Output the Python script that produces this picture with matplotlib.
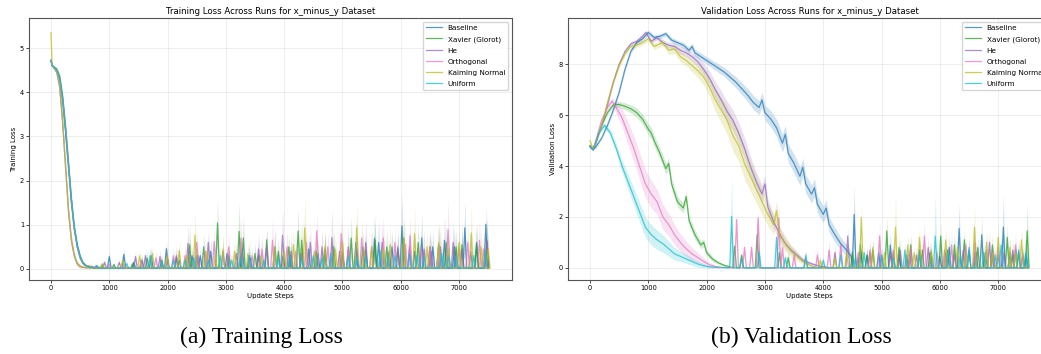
import numpy as np
import matplotlib.pyplot as plt

# series names and colours
names = ['Baseline', 'Xavier (Glorot)', 'He', 'Orthogonal', 'Kaiming Normal', 'Uniform']
colors = ['#1f77b4', '#2ca02c', '#9467bd', '#e377c2', '#bcbd22', '#17becf']

# ---------------- training loss: early decay (shared steps) ----------------
train_steps = [0, 20, 50, 100, 150, 200, 250, 300, 350, 400, 450, 500, 550, 600]
train_baseline = [4.72, 4.6, 4.57, 4.5, 4.3, 3.8, 3.1, 2.3, 1.5, 0.9, 0.5, 0.25, 0.12, 0.07]
train_xavier = [4.72, 4.6, 4.57, 4.52, 4.35, 3.9, 3.2, 2.4, 1.6, 0.95, 0.55, 0.3, 0.15, 0.08]
train_he = [4.72, 4.6, 4.55, 4.45, 4.1, 3.3, 2.3, 1.3, 0.65, 0.3, 0.12, 0.06, 0.04, 0.03]
train_orthogonal = [4.72, 4.6, 4.57, 4.5, 4.3, 3.85, 3.2, 2.4, 1.55, 0.9, 0.5, 0.25, 0.12, 0.07]
train_kaiming = [5.35, 4.62, 4.56, 4.45, 4.15, 3.35, 2.35, 1.35, 0.65, 0.3, 0.12, 0.06, 0.04, 0.03]
train_uniform = [4.72, 4.6, 4.57, 4.5, 4.32, 3.85, 3.15, 2.35, 1.55, 0.95, 0.55, 0.28, 0.14, 0.07]
train_std = [0.06, 0.03, 0.03, 0.04, 0.08, 0.12, 0.14, 0.14, 0.12, 0.09, 0.06, 0.04, 0.02, 0.01]
train_floor = 0.02

# training loss spikes: step, mean height, upper band
tsp_baseline_steps = [780, 1000, 1250, 1420, 1560, 1720, 1980, 2200, 2420, 2560, 2740, 3020, 3280, 3420, 3560,
                      3840, 3980, 4110, 4420, 4580, 4700, 5000, 5230, 5400, 5550, 5620, 5850, 6020, 6240,
                      6360, 6550, 6750, 6920, 7100, 7300, 7460]
tsp_baseline_mean = [0.08, 0.28, 0.33, 0.15, 0.2, 0.3, 0.46, 0.2, 0.3, 0.3, 0.4, 0.35, 0.45, 0.25, 0.3,
                     0.5, 0.3, 0.3, 0.45, 0.35, 0.4, 0.35, 0.6, 0.4, 0.7, 0.6, 0.5, 0.97, 0.4,
                     0.7, 0.5, 0.65, 0.5, 0.93, 0.6, 1.01]
tsp_baseline_upper = [0.12, 0.4, 0.45, 0.25, 0.35, 0.5, 0.62, 0.4, 0.5, 0.5, 0.7, 0.55, 0.7, 0.45, 0.6,
                      0.9, 0.55, 0.6, 0.8, 0.65, 0.8, 0.7, 1.1, 0.75, 1.25, 1.1, 0.9, 1.71, 0.8,
                      1.25, 0.9, 1.2, 0.9, 1.53, 1.0, 1.4]

tsp_xavier_steps = [700, 880, 1080, 1400, 1650, 1900, 2150, 2380, 2500, 2620, 2857, 3050, 3227, 3300, 3500,
                    3700, 3900, 4080, 4240, 4300, 4550, 4700, 4850, 5000, 5150, 5350, 5560, 5760, 5950,
                    6050, 6300, 6500, 6650, 6780, 6950, 7050, 7300, 7480]
tsp_xavier_mean = [0.06, 0.1, 0.1, 0.12, 0.25, 0.2, 0.25, 0.55, 0.3, 0.5, 1.04, 0.3, 0.85, 0.7, 0.35,
                   0.66, 0.4, 0.5, 0.86, 0.65, 0.4, 0.45, 0.5, 0.4, 0.7, 0.5, 0.65, 0.5, 0.45,
                   0.7, 0.6, 0.5, 0.55, 0.6, 0.5, 0.55, 0.55, 0.6]
tsp_xavier_upper = [0.1, 0.15, 0.15, 0.2, 0.4, 0.35, 0.4, 1.0, 0.5, 0.8, 1.56, 0.5, 1.53, 1.22, 0.6,
                    0.9, 0.7, 0.8, 1.38, 1.1, 0.7, 0.8, 0.9, 0.7, 1.2, 0.9, 1.1, 0.9, 0.8,
                    1.1, 1.0, 0.9, 0.95, 1.0, 0.9, 1.0, 1.0, 1.1]

tsp_he_steps = [920, 1170, 1450, 1620, 1870, 2000, 2150, 2350, 2520, 2700, 2950, 3180, 3400, 3560, 3700,
                3973, 4120, 4300, 4450, 4650, 4820, 4950, 5100, 5250, 5400, 5680, 5800, 5950, 6150,
                6400, 6520, 6680, 6900, 7050, 7200, 7480]
tsp_he_mean = [0.15, 0.15, 0.28, 0.3, 0.28, 0.25, 0.3, 0.58, 0.3, 0.6, 0.4, 0.35, 0.3, 0.45, 0.5,
               0.76, 0.4, 0.35, 0.6, 0.5, 0.71, 0.4, 0.5, 0.45, 0.6, 0.6, 0.4, 0.5, 0.5,
               0.45, 0.4, 0.5, 0.6, 0.45, 0.4, 0.65]
tsp_he_upper = [0.2, 0.2, 0.4, 0.45, 0.45, 0.4, 0.55, 1.0, 0.5, 0.9, 0.7, 0.6, 0.6, 0.8, 0.9,
                1.34, 0.8, 0.6, 1.0, 0.9, 1.37, 0.7, 1.0, 0.8, 1.1, 1.0, 0.7, 0.9, 0.9,
                0.9, 0.75, 1.0, 1.1, 0.8, 0.8, 1.2]

tsp_orthogonal_steps = [1000, 1250, 1550, 1800, 2100, 2300, 2500, 2650, 2800, 3050, 3260, 3450, 3620, 3800,
                        4050, 4200, 4380, 4560, 4750, 4980, 5100, 5330, 5500, 5700, 5900, 6080, 6160,
                        6350, 6500, 6650, 6812, 7000, 7150, 7350, 7420]
tsp_orthogonal_mean = [0.1, 0.1, 0.2, 0.25, 0.3, 0.3, 0.6, 0.4, 0.62, 0.5, 0.7, 0.3, 0.45, 0.65,
                       0.5, 0.4, 0.6, 0.86, 0.5, 0.8, 0.45, 0.7, 0.5, 0.7, 0.6, 0.55, 0.75,
                       0.5, 0.5, 0.55, 0.89, 0.5, 0.6, 0.65, 0.45]
tsp_orthogonal_upper = [0.15, 0.15, 0.3, 0.4, 0.5, 0.5, 0.9, 0.7, 1.0, 0.8, 1.15, 0.5, 0.8, 1.15,
                        0.9, 0.7, 1.0, 1.3, 0.85, 1.2, 0.8, 1.1, 0.9, 1.2, 1.0, 1.0, 1.2,
                        0.9, 0.9, 1.0, 1.57, 0.9, 1.0, 1.1, 0.8]

tsp_kaiming_steps = [650, 880, 1230, 1520, 1740, 1990, 2200, 2330, 2470, 2680, 2820, 2950, 3150, 3380, 3600,
                     3840, 4000, 4160, 4354, 4520, 4700, 4880, 5000, 5247, 5380, 5500, 5700, 5820, 6050,
                     6237, 6450, 6650, 6820, 7000, 7210, 7380, 7500]
tsp_kaiming_mean = [0.08, 0.12, 0.2, 0.3, 0.35, 0.3, 0.42, 0.3, 0.76, 0.4, 0.3, 0.45, 0.4, 0.35, 0.3,
                    0.5, 0.4, 0.55, 0.93, 0.4, 0.5, 0.45, 0.6, 0.95, 0.4, 0.5, 0.45, 0.55, 0.7,
                    0.8, 0.5, 0.6, 0.45, 0.6, 0.82, 0.5, 0.45]
tsp_kaiming_upper = [0.12, 0.2, 0.35, 0.45, 0.5, 0.5, 0.65, 0.5, 1.29, 0.7, 0.5, 0.8, 0.7, 0.6, 0.6,
                     0.9, 0.7, 0.95, 1.65, 0.7, 0.9, 0.8, 1.0, 1.5, 0.7, 0.9, 0.8, 1.0, 1.2,
                     1.43, 0.9, 1.1, 0.8, 1.0, 1.44, 0.9, 0.8]

tsp_uniform_steps = [800, 1300, 1700, 1900, 2100, 2300, 2450, 2700, 2900, 3100, 3250, 3400, 3650, 3900, 4100,
                     4300, 4500, 4650, 4800, 5100, 5250, 5400, 5650, 5780, 5900, 6150, 6280, 6400, 6700,
                     6820, 6950, 7250, 7450]
tsp_uniform_mean = [0.05, 0.12, 0.3, 0.15, 0.2, 0.2, 0.25, 0.2, 0.3, 0.2, 0.25, 0.3, 0.2, 0.25, 0.3,
                    0.25, 0.3, 0.25, 0.35, 0.3, 0.25, 0.3, 0.4, 0.3, 0.3, 0.35, 0.3, 0.3, 0.35,
                    0.3, 0.3, 0.3, 0.4]
tsp_uniform_upper = [0.1, 0.2, 0.5, 0.25, 0.35, 0.35, 0.4, 0.35, 0.5, 0.35, 0.4, 0.5, 0.4, 0.45, 0.5,
                     0.45, 0.55, 0.45, 0.6, 0.55, 0.45, 0.55, 0.7, 0.55, 0.55, 0.6, 0.55, 0.55, 0.6,
                     0.55, 0.55, 0.55, 0.7]

# ---------------- validation loss: main curves ----------------
val_baseline_steps = [0, 50, 100, 200, 300, 400, 500, 600, 700, 800, 900, 1000, 1100, 1200, 1300, 1400, 1500,
                      1600, 1700, 1750, 1800, 1900, 2000, 2100, 2200, 2300, 2400, 2500, 2600, 2700, 2800,
                      2900, 2950, 3000, 3100, 3200, 3300, 3350, 3400, 3500, 3600, 3650, 3700, 3800, 3850,
                      3900, 4000, 4050, 4100, 4200, 4300, 4400, 4480]
val_baseline_mean = [4.8, 4.65, 4.75, 5.1, 5.6, 6.2, 6.9, 7.8, 8.5, 8.85, 9.0, 9.25, 9.05, 9.1, 9.2, 8.95, 8.85,
                     8.75, 8.55, 8.7, 8.45, 8.3, 8.15, 8.0, 7.85, 7.7, 7.5, 7.3, 7.05, 6.8, 6.5,
                     6.3, 6.6, 6.1, 5.85, 5.5, 4.9, 5.25, 4.5, 4.1, 3.6, 3.95, 3.3, 2.9, 3.15,
                     2.5, 2.1, 2.35, 1.7, 1.3, 0.95, 0.7, 0.45]
val_baseline_std = [0.05, 0.05, 0.05, 0.05, 0.06, 0.07, 0.08, 0.08, 0.08, 0.08, 0.08, 0.1, 0.1, 0.1, 0.1, 0.1, 0.1,
                    0.12, 0.12, 0.14, 0.14, 0.15, 0.15, 0.16, 0.17, 0.18, 0.2, 0.22, 0.24, 0.25, 0.27,
                    0.28, 0.3, 0.3, 0.32, 0.34, 0.35, 0.36, 0.36, 0.37, 0.37, 0.37, 0.36, 0.35, 0.35,
                    0.34, 0.33, 0.32, 0.3, 0.28, 0.25, 0.22, 0.18]

val_xavier_steps = [0, 50, 100, 200, 300, 400, 500, 600, 700, 800, 900, 1000, 1050, 1100, 1200, 1300, 1350,
                    1400, 1500, 1600, 1650, 1700, 1800, 1900, 1950, 2000, 2100, 2200, 2300, 2400]
val_xavier_mean = [4.8, 4.65, 4.95, 5.6, 6.1, 6.4, 6.42, 6.35, 6.25, 6.1, 5.85, 5.45, 5.3, 5.0, 4.5, 3.9, 4.1,
                   3.3, 2.6, 2.35, 2.8, 1.85, 1.3, 0.9, 1.0, 0.6, 0.35, 0.2, 0.1, 0.04]
val_xavier_std = [0.05, 0.05, 0.05, 0.08, 0.1, 0.1, 0.12, 0.14, 0.16, 0.18, 0.2, 0.22, 0.22, 0.22, 0.22, 0.22, 0.22,
                  0.22, 0.2, 0.2, 0.2, 0.2, 0.18, 0.15, 0.15, 0.12, 0.1, 0.06, 0.04, 0.02]

val_he_steps = [0, 50, 100, 200, 300, 400, 500, 600, 700, 800, 900, 960, 1050, 1150, 1250, 1350, 1450, 1550,
                1650, 1750, 1850, 1950, 2050, 2150, 2250, 2350, 2450, 2550, 2650, 2750, 2850, 2950, 3000,
                3050, 3150, 3250, 3350, 3450, 3550, 3650, 3750, 3850, 3950, 4050]
val_he_mean = [4.75, 4.65, 4.9, 5.6, 6.4, 7.3, 8.0, 8.5, 8.8, 8.9, 9.1, 9.25, 8.9, 9.05, 8.85, 8.75, 8.7, 8.55,
               8.45, 8.3, 8.1, 7.8, 7.45, 7.0, 6.6, 6.15, 5.8, 5.3, 4.7, 4.0, 3.4, 2.9, 3.3,
               2.4, 1.8, 1.35, 0.95, 0.7, 0.5, 0.3, 0.2, 0.12, 0.06, 0.03]
val_he_std = [0.05, 0.05, 0.05, 0.06, 0.07, 0.08, 0.08, 0.08, 0.08, 0.08, 0.1, 0.1, 0.1, 0.1, 0.12, 0.12, 0.14, 0.15,
              0.16, 0.18, 0.2, 0.24, 0.28, 0.32, 0.36, 0.4, 0.42, 0.42, 0.42, 0.4, 0.38, 0.35, 0.35,
              0.32, 0.28, 0.24, 0.2, 0.16, 0.13, 0.1, 0.08, 0.06, 0.04, 0.02]

val_orthogonal_steps = [0, 50, 100, 200, 300, 380, 450, 550, 650, 750, 850, 950, 1050, 1150, 1250, 1350,
                        1450, 1550, 1650, 1750, 1850, 1950, 2050, 2150, 2250]
val_orthogonal_mean = [4.8, 4.65, 5.0, 5.8, 6.3, 6.55, 6.3, 5.9, 5.3, 4.7, 4.0, 3.3, 2.9, 2.6, 2.0, 1.7,
                       1.3, 1.0, 0.75, 0.55, 0.4, 0.25, 0.12, 0.05, 0.02]
val_orthogonal_std = [0.05, 0.05, 0.08, 0.1, 0.12, 0.15, 0.25, 0.35, 0.45, 0.5, 0.55, 0.55, 0.55, 0.5, 0.5, 0.45,
                      0.4, 0.35, 0.3, 0.25, 0.2, 0.15, 0.1, 0.05, 0.02]

val_kaiming_steps = [0, 50, 100, 200, 300, 400, 500, 600, 700, 800, 900, 1000, 1100, 1250, 1350, 1450, 1550,
                     1650, 1750, 1850, 1950, 2050, 2150, 2250, 2350, 2450, 2550, 2650, 2750, 2850, 2950,
                     3050, 3150, 3200, 3250, 3350, 3450, 3550, 3650, 3750, 3850]
val_kaiming_mean = [5.0, 4.7, 4.9, 5.6, 6.5, 7.3, 7.95, 8.4, 8.7, 8.75, 8.85, 9.0, 8.7, 8.85, 8.55, 8.6, 8.3,
                    8.15, 7.95, 7.75, 7.5, 7.1, 6.6, 6.2, 5.8, 5.2, 4.8, 4.1, 3.6, 3.1, 2.6,
                    2.1, 1.7, 2.25, 1.3, 0.95, 0.65, 0.45, 0.25, 0.12, 0.03]
val_kaiming_std = [0.05, 0.05, 0.05, 0.06, 0.07, 0.08, 0.08, 0.08, 0.1, 0.1, 0.1, 0.1, 0.12, 0.14, 0.16, 0.18, 0.2,
                   0.22, 0.25, 0.28, 0.32, 0.38, 0.45, 0.5, 0.55, 0.6, 0.62, 0.62, 0.6, 0.55, 0.5,
                   0.45, 0.4, 0.38, 0.35, 0.3, 0.25, 0.18, 0.12, 0.08, 0.03]

val_uniform_steps = [0, 50, 100, 150, 250, 350, 450, 550, 650, 750, 850, 950, 1050, 1150, 1250, 1350, 1450,
                     1550, 1650, 1750, 1850, 1950, 2050, 2150]
val_uniform_mean = [4.75, 4.65, 4.9, 5.3, 5.6, 5.3, 4.7, 4.0, 3.4, 2.8, 2.2, 1.6, 1.3, 1.1, 0.95, 0.75, 0.55,
                    0.45, 0.35, 0.25, 0.15, 0.08, 0.04, 0.02]
val_uniform_std = [0.05, 0.05, 0.05, 0.08, 0.1, 0.15, 0.2, 0.25, 0.3, 0.35, 0.38, 0.4, 0.4, 0.38, 0.35, 0.3, 0.25,
                   0.2, 0.18, 0.15, 0.12, 0.08, 0.05, 0.02]
val_floor = 0.0

# validation loss spikes after convergence: step, mean height, upper band
vsp_baseline_steps = [4530, 4650, 4750, 4950, 5150, 5300, 5430, 5650, 5830, 6000, 6160, 6330, 6500, 6620,
                      6718, 6900, 7088, 7200, 7300, 7480]
vsp_baseline_mean = [2.1, 0.6, 0.5, 0.6, 0.9, 0.5, 0.5, 0.7, 0.6, 0.45, 0.8, 1.55, 0.7, 0.6,
                     1.3, 0.5, 1.6, 0.6, 0.7, 0.5]
vsp_baseline_upper = [3.3, 0.9, 0.8, 1.0, 1.4, 0.8, 0.9, 1.2, 1.0, 0.8, 1.3, 2.55, 1.1, 1.0,
                      2.0, 0.8, 2.9, 1.0, 1.1, 1.2]

vsp_xavier_steps = [2480, 2600, 2866, 3250, 3400, 4500, 4636, 4750, 4850, 5090, 5200, 5300, 5500, 5700, 5850,
                    6014, 6130, 6250, 6420, 6650, 6780, 6900, 7155, 7250, 7350, 7497]
vsp_xavier_mean = [0.85, 0.5, 1.3, 0.6, 0.4, 0.6, 0.93, 0.5, 0.7, 1.45, 0.6, 0.8, 0.9, 0.7, 0.6,
                   1.25, 0.7, 0.9, 1.1, 0.8, 0.6, 0.9, 1.2, 0.5, 0.6, 1.45]
vsp_xavier_upper = [1.0, 0.7, 1.9, 0.9, 0.7, 0.9, 1.3, 0.8, 1.1, 2.0, 0.9, 1.2, 1.3, 1.1, 0.9,
                    1.8, 1.0, 1.4, 1.5, 1.2, 0.9, 1.3, 1.7, 0.8, 1.0, 2.57]

vsp_he_steps = [4200, 4420, 4600, 4800, 5000, 5150, 5320, 5480, 5600, 5800, 6100, 6250, 6400, 6600, 6850,
                7000, 7100, 7250, 7420]
vsp_he_mean = [0.6, 1.25, 0.4, 0.6, 0.5, 0.6, 0.7, 0.5, 0.5, 0.8, 0.6, 0.5, 0.7, 0.6, 1.0,
               0.5, 0.6, 0.7, 0.5]
vsp_he_upper = [0.9, 1.6, 0.6, 1.0, 0.8, 0.9, 1.1, 0.8, 0.9, 1.2, 1.0, 0.8, 1.1, 0.9, 1.5,
                0.8, 1.0, 1.1, 0.8]

vsp_orthogonal_steps = [2514, 2650, 2770, 2884, 3237, 3300, 3500, 3700, 3900, 4100, 4300, 4600, 4800, 4966,
                        5200, 5500, 5734, 5950, 6080, 6200, 6445, 6600, 6800, 6920, 7000, 7296, 7420]
vsp_orthogonal_mean = [1.9, 0.8, 0.8, 1.96, 1.95, 0.8, 0.5, 0.4, 0.5, 0.7, 0.9, 0.6, 0.7, 1.25,
                       0.7, 0.8, 1.25, 0.6, 0.7, 0.9, 0.9, 1.0, 0.7, 0.6, 0.8, 0.9, 0.6]
vsp_orthogonal_upper = [2.2, 1.0, 1.1, 2.3, 2.6, 1.2, 0.8, 0.7, 0.8, 1.1, 1.3, 0.9, 1.1, 1.8,
                        1.1, 1.2, 1.9, 1.0, 1.1, 1.4, 1.3, 1.6, 1.2, 1.0, 1.3, 1.4, 1.0]

vsp_kaiming_steps = [3950, 4200, 4400, 4653, 4850, 5050, 5239, 5450, 5560, 5650, 5850, 6100, 6300, 6450,
                     6593, 6800, 6900, 7000, 7200, 7300, 7400]
vsp_kaiming_mean = [0.3, 0.4, 0.6, 1.97, 0.8, 0.6, 1.6, 0.9, 0.6, 1.2, 0.7, 1.1, 0.8, 0.6,
                    1.6, 1.0, 0.6, 1.2, 0.8, 0.6, 1.1]
vsp_kaiming_upper = [0.5, 0.7, 0.9, 2.5, 1.2, 1.0, 2.88, 1.3, 0.9, 1.7, 1.1, 1.6, 1.2, 0.9,
                     2.5, 1.5, 0.9, 1.7, 1.3, 0.9, 1.6]

vsp_uniform_steps = [2429, 2600, 2900, 3200, 3350, 3700, 4000, 4300, 4550, 4700, 5000, 5200, 5400, 5650,
                     5921, 6150, 6350, 6500, 6750, 6950, 7050, 7350, 7470]
vsp_uniform_mean = [2.02, 0.4, 0.6, 1.2, 0.4, 0.5, 0.3, 0.5, 0.4, 0.6, 0.5, 0.4, 0.7, 0.5,
                    1.25, 0.6, 0.5, 0.8, 0.6, 0.5, 0.9, 0.7, 0.6]
vsp_uniform_upper = [3.6, 0.6, 0.9, 1.5, 0.6, 0.7, 0.5, 0.8, 0.6, 0.9, 0.8, 0.6, 1.0, 0.8,
                     2.88, 1.0, 0.8, 1.2, 0.9, 0.8, 1.3, 1.1, 1.2]

last_step = 7500


def build(steps, mean, std, sp_steps, sp_mean, sp_upper, floor, half_width=32):
    # smooth part followed by narrow spikes sitting on the floor
    x = list(steps)
    y = list(mean)
    lo = [m - s for m, s in zip(mean, std)]
    hi = [m + s for m, s in zip(mean, std)]
    for s, m, u in zip(sp_steps, sp_mean, sp_upper):
        x += [s - half_width, s, s + half_width]
        y += [floor, m, floor]
        lo += [floor, max(floor, 2 * m - u), floor]
        hi += [floor, u, floor]
    x.append(last_step)
    y.append(floor)
    lo.append(floor)
    hi.append(floor)
    return np.array(x), np.array(y), np.array(lo), np.array(hi)


train_series = [
    (train_baseline, tsp_baseline_steps, tsp_baseline_mean, tsp_baseline_upper),
    (train_xavier, tsp_xavier_steps, tsp_xavier_mean, tsp_xavier_upper),
    (train_he, tsp_he_steps, tsp_he_mean, tsp_he_upper),
    (train_orthogonal, tsp_orthogonal_steps, tsp_orthogonal_mean, tsp_orthogonal_upper),
    (train_kaiming, tsp_kaiming_steps, tsp_kaiming_mean, tsp_kaiming_upper),
    (train_uniform, tsp_uniform_steps, tsp_uniform_mean, tsp_uniform_upper),
]
val_series = [
    (val_baseline_steps, val_baseline_mean, val_baseline_std, vsp_baseline_steps, vsp_baseline_mean, vsp_baseline_upper),
    (val_xavier_steps, val_xavier_mean, val_xavier_std, vsp_xavier_steps, vsp_xavier_mean, vsp_xavier_upper),
    (val_he_steps, val_he_mean, val_he_std, vsp_he_steps, vsp_he_mean, vsp_he_upper),
    (val_orthogonal_steps, val_orthogonal_mean, val_orthogonal_std, vsp_orthogonal_steps, vsp_orthogonal_mean, vsp_orthogonal_upper),
    (val_kaiming_steps, val_kaiming_mean, val_kaiming_std, vsp_kaiming_steps, vsp_kaiming_mean, vsp_kaiming_upper),
    (val_uniform_steps, val_uniform_mean, val_uniform_std, vsp_uniform_steps, vsp_uniform_mean, vsp_uniform_upper),
]

fig = plt.figure(figsize=(10.41, 3.54), dpi=100)
ax1 = fig.add_axes([29 / 1041, 1 - 280 / 354, 483 / 1041, 262 / 354])
ax2 = fig.add_axes([568 / 1041, 1 - 280 / 354, 483 / 1041, 262 / 354])

for i, (mean, sp_s, sp_m, sp_u) in enumerate(train_series):
    x, y, lo, hi = build(train_steps, mean, train_std, sp_s, sp_m, sp_u, train_floor)
    ax1.plot(x, y, color=colors[i], lw=0.9, alpha=0.75, label=names[i])
    ax1.fill_between(x, lo, hi, color=colors[i], alpha=0.2, lw=0)

for i, (st, mean, sd, sp_s, sp_m, sp_u) in enumerate(val_series):
    x, y, lo, hi = build(st, mean, sd, sp_s, sp_m, sp_u, val_floor)
    ax2.plot(x, y, color=colors[i], lw=0.9, alpha=0.75, label=names[i])
    ax2.fill_between(x, lo, hi, color=colors[i], alpha=0.2, lw=0)

for ax, title, ylabel in [(ax1, 'Training Loss Across Runs for x_minus_y Dataset', 'Training Loss'),
                          (ax2, 'Validation Loss Across Runs for x_minus_y Dataset', 'Validation Loss')]:
    ax.set_title(title, fontsize=6.2, pad=3)
    ax.set_xlabel('Update Steps', fontsize=5, labelpad=1.5)
    ax.set_ylabel(ylabel, fontsize=5, labelpad=2)
    ax.tick_params(labelsize=4.8, length=2, width=0.5, pad=1.5)
    ax.set_xticks([0, 1000, 2000, 3000, 4000, 5000, 6000, 7000])
    ax.grid(True, alpha=0.3, lw=0.5)
    for sp in ax.spines.values():
        sp.set_color('#555555')
        sp.set_linewidth(0.8)
    ax.legend(loc='upper right', fontsize=5.2, handlelength=2.2, borderpad=0.45, labelspacing=0.7)

ax1.set_yticks([0, 1, 2, 3, 4, 5])
ax2.set_yticks([0, 2, 4, 6, 8])

fig.text(261 / 1041, 1 - 337 / 354, '(a) Training Loss', family='Liberation Serif', fontsize=17,
         ha='center', va='center')
fig.text(801 / 1041, 1 - 337 / 354, '(b) Validation Loss', family='Liberation Serif', fontsize=17,
         ha='center', va='center')

fig.savefig('out.png', dpi=100)
